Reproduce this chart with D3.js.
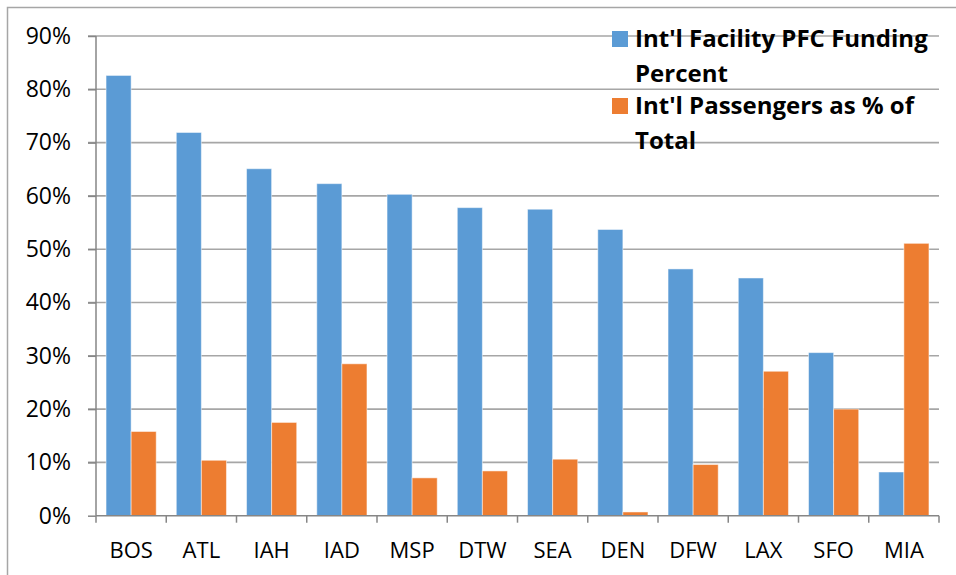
<!DOCTYPE html>
<head>
  <meta charset="utf-8">
  <script src="https://d3js.org/d3.v7.min.js"></script>
  <style>
body { margin: 0; background: white; }
svg { display: block; font-family: 'Open Sans', sans-serif; }
  </style>
</head>
<body>
<svg width="956" height="575"></svg>
<script>
// airports, in chart order
var airports = ["BOS", "ATL", "IAH", "IAD", "MSP", "DTW", "SEA", "DEN", "DFW", "LAX", "SFO", "MIA"];
var pfcFunding = [82.6, 71.9, 65.1, 62.3, 60.3, 57.8, 57.5, 53.7, 46.3, 44.6, 30.6, 8.2];
var intlPax = [15.8, 10.4, 17.5, 28.5, 7.1, 8.4, 10.6, 0.7, 9.6, 27.1, 20.0, 51.1];
var seriesNames = [["Int'l Facility PFC Funding", "Percent"], ["Int'l Passengers as % of", "Total"]];
var seriesColors = ["#5b9bd5", "#ed7d31"];
var yTicks = [0, 10, 20, 30, 40, 50, 60, 70, 80, 90];

var svg = d3.select("svg");
var plotLeft = 96, plotRight = 939, plotTop = 36, plotBottom = 515.7;

// outer chart border (cut off at right / bottom like the original)
svg.append("rect")
   .attr("x", 7.5).attr("y", 7.5)
   .attr("width", 1000).attr("height", 1000)
   .attr("fill", "none").attr("stroke", "#a6a6a6").attr("stroke-width", 1.5);

var x = d3.scaleBand().domain(airports).range([plotLeft, plotRight]);
var xi = d3.scaleBand().domain([0, 1]).range([0, x.bandwidth()]).paddingOuter(0.4).paddingInner(0);
var y = d3.scaleLinear().domain([0, 90]).range([plotBottom, plotTop]);

// gridlines
svg.append("g").selectAll("line")
   .data(yTicks.slice(1))
   .enter().append("line")
   .attr("x1", plotLeft - 8).attr("x2", plotRight)
   .attr("y1", function(d) { return y(d); }).attr("y2", function(d) { return y(d); })
   .attr("stroke", "#a6a6a6").attr("stroke-width", 1.6);

// bars
var data = [pfcFunding, intlPax];
data.forEach(function(series, s) {
  svg.append("g").selectAll("rect")
     .data(series)
     .enter().append("rect")
     .attr("x", function(d, i) { return x(airports[i]) + xi(s); })
     .attr("y", function(d) { return y(d); })
     .attr("width", xi.bandwidth())
     .attr("height", function(d) { return plotBottom - y(d); })
     .attr("fill", seriesColors[s])
     .attr("stroke", "#ffffff").attr("stroke-opacity", 0.5).attr("stroke-width", 1);
});

// y axis
var yAxis = svg.append("g")
   .attr("transform", "translate(" + plotLeft + ",0)")
   .call(d3.axisLeft(y).tickValues(yTicks).tickSize(8).tickPadding(17)
           .tickFormat(function(d) { return d + "%"; }));
yAxis.select(".domain").attr("stroke", "#868686").attr("stroke-width", 1.5)
     .attr("d", "M0," + plotTop + "V" + plotBottom);
yAxis.selectAll(".tick line").attr("stroke", "#868686").attr("stroke-width", 1.5);
yAxis.selectAll("text").attr("font-size", 23).attr("fill", "#000")
     .attr("font-family", "'Open Sans', sans-serif");

// x axis, ticks between categories
var xAxis = svg.append("g")
   .attr("transform", "translate(0," + plotBottom + ")");
xAxis.append("line")
     .attr("x1", plotLeft).attr("x2", plotRight).attr("y1", 0).attr("y2", 0)
     .attr("stroke", "#868686").attr("stroke-width", 1.5);
xAxis.selectAll("line.sep")
     .data(airports.concat(["end"]))
     .enter().append("line").attr("class", "sep")
     .attr("x1", function(d, i) { return i < airports.length ? x(d) : plotRight; })
     .attr("x2", function(d, i) { return i < airports.length ? x(d) : plotRight; })
     .attr("y1", 0).attr("y2", 7)
     .attr("stroke", "#868686").attr("stroke-width", 1.5);
xAxis.selectAll("text")
     .data(airports)
     .enter().append("text")
     .attr("x", function(d) { return x(d) + x.bandwidth() / 2; })
     .attr("y", 42.5)
     .attr("text-anchor", "middle")
     .attr("font-size", 22)
     .text(function(d) { return d; });

// legend, no background (gridlines run through it)
var legend = svg.append("g");
var legendTop = [31, 98];
seriesNames.forEach(function(lines, s) {
  legend.append("rect")
        .attr("x", 612).attr("y", legendTop[s])
        .attr("width", 16).attr("height", 16)
        .attr("fill", seriesColors[s]);
  lines.forEach(function(t, k) {
    legend.append("text")
          .attr("x", 635).attr("y", legendTop[s] + 16 + k * 35)
          .attr("font-size", 24).attr("font-weight", "bold")
          .text(t);
  });
});
</script>
</body>
</html>
